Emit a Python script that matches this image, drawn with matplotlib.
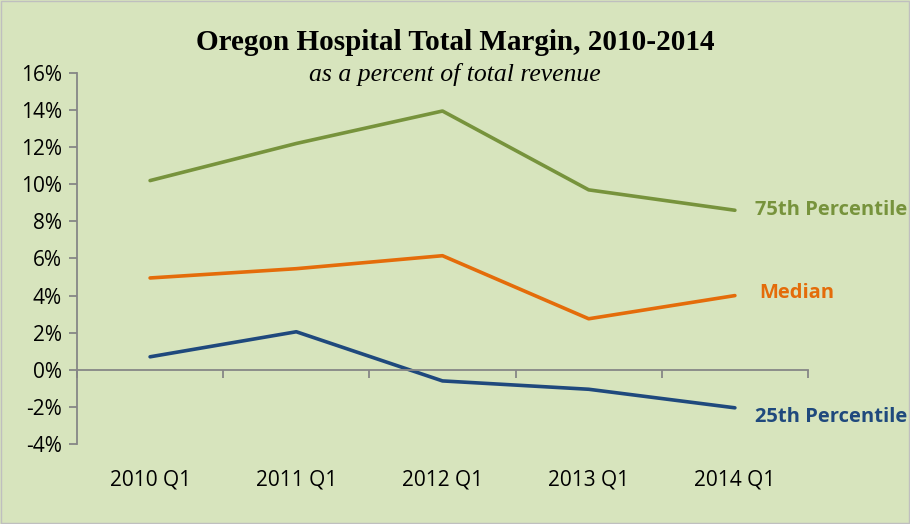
import numpy as np
import matplotlib.pyplot as plt
from matplotlib.ticker import FuncFormatter
import matplotlib.transforms as mtransforms

# ---- data ----
quarters = ['2010 Q1', '2011 Q1', '2012 Q1', '2013 Q1', '2014 Q1']
p75 = [10.2, 12.2, 13.95, 9.7, 8.6]
median = [4.95, 5.45, 6.15, 2.75, 4.0]
p25 = [0.7, 2.05, -0.6, -1.05, -2.05]

BG = '#D7E4BD'
AX_COL = '#868686'
GREEN = '#77933C'
ORANGE = '#E46C0A'
BLUE = '#1F497D'

fig = plt.figure(figsize=(9.1, 5.24), dpi=100, facecolor=BG)
ax = fig.add_axes([0.0846, 0.1527, 0.8033, 0.708])
ax.set_facecolor(BG)

x = np.arange(len(quarters))
ax.plot(x, p75, color=GREEN, lw=2.6, solid_capstyle='round', solid_joinstyle='round')
ax.plot(x, median, color=ORANGE, lw=2.6, solid_capstyle='round', solid_joinstyle='round')
ax.plot(x, p25, color=BLUE, lw=2.6, solid_capstyle='round', solid_joinstyle='round')

ax.set_xlim(-0.5, len(quarters) - 0.5)
ax.set_ylim(-4, 16)
ax.set_yticks(np.arange(-4, 17, 2))
ax.yaxis.set_major_formatter(FuncFormatter(lambda v, p: '%d%%' % v))

# axis styling
for side in ['top', 'right']:
    ax.spines[side].set_visible(False)
ax.spines['bottom'].set_position(('data', 0))
for side in ['left', 'bottom']:
    ax.spines[side].set_color(AX_COL)
    ax.spines[side].set_linewidth(1.3)
ax.set_xticks(np.arange(-0.5, len(quarters), 1.0))
ax.set_xticklabels([])
ax.tick_params(axis='x', direction='out', length=6, width=1.3, color=AX_COL)
ax.tick_params(axis='y', direction='out', length=6, width=1.3, color=AX_COL,
               labelsize=15, pad=5, labelcolor='black')
for lbl in ax.get_yticklabels():
    lbl.set_family('Open Sans')

# category labels below plot area
trans = mtransforms.blended_transform_factory(ax.transData, ax.transAxes)
for xi, q in zip(x, quarters):
    ax.text(xi, -0.097, q, transform=trans, ha='center', va='center',
            fontsize=15, family='Open Sans', color='black')

# series labels
ax.text(len(quarters) - 1 + 0.14, p75[-1], '75th Percentile', color=GREEN,
        fontsize=14.5, fontweight='bold', family='Open Sans', va='center', ha='left')
ax.text(len(quarters) - 1 + 0.17, median[-1] + 0.15, 'Median', color=ORANGE,
        fontsize=14.5, fontweight='bold', family='Open Sans', va='center', ha='left')
ax.text(len(quarters) - 1 + 0.14, p25[-1] - 0.5, '25th Percentile', color=BLUE,
        fontsize=14.5, fontweight='bold', family='Open Sans', va='center', ha='left')

# titles
fig.text(0.5, 1 - 43 / 524, 'Oregon Hospital Total Margin, 2010-2014',
         ha='center', va='center', fontsize=21, fontweight='bold',
         family='Liberation Serif')
fig.text(0.5, 1 - 74 / 524, 'as a percent of total revenue',
         ha='center', va='center', fontsize=18.5, style='italic',
         family='Liberation Serif')

# thin frame around the figure
fig.patches.append(plt.Rectangle((0.001, 0.001), 0.998, 0.997, transform=fig.transFigure,
                                 fill=False, edgecolor='#BFBFBF', lw=1))

fig.savefig('out.png', dpi=100, facecolor=BG)
